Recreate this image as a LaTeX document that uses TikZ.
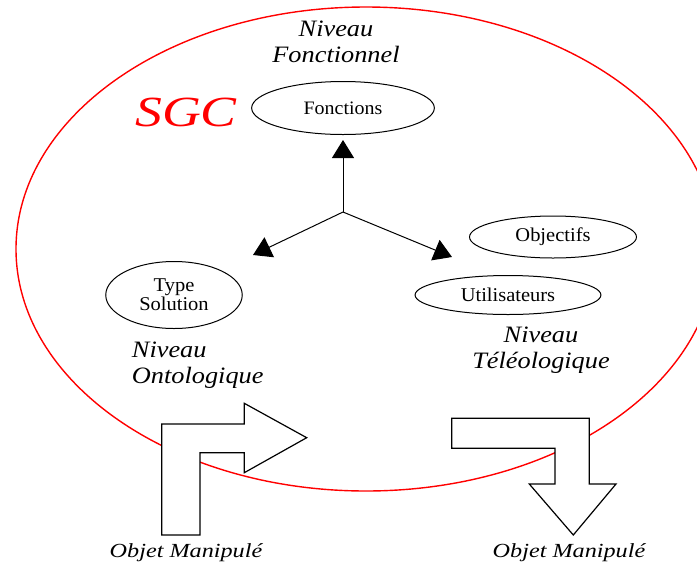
\documentclass[tikz,border=0pt]{standalone}
\usepackage{fontspec}
\setmainfont{Liberation Serif}
\usetikzlibrary{shapes.geometric,arrows.meta}

\begin{document}
\begin{tikzpicture}[x=1pt, y=-1pt,
    niveau/.style={font=\itshape\fontsize{23.5}{25.5}\selectfont, align=center, xscale=1.12},
    bloc/.style={draw, ellipse, line width=1pt, inner sep=0pt, align=center, font=\fontsize{19.5}{19}\selectfont, xscale=1.05},
    objet/.style={font=\itshape\fontsize{20}{20}\selectfont, xscale=1.21},
    fleche/.style={-{Triangle[length=18pt,width=22pt]}, line width=1pt},
    coude/.style={draw, line width=1.2pt, fill=white, line join=miter}]
    \useasboundingbox (0,0) rectangle (697,566);

    % System boundary
    \draw[red, line width=1.4pt] (366,249) ellipse [x radius=350pt, y radius=242pt];

    % Nodes
    \node (sgc) [font=\itshape\fontsize{43}{45}\selectfont, text=red, xscale=1.25] at (186,112) {SGC};
    \node (fonctionnel) [niveau] at (336,42) {Niveau\\Fonctionnel};
    \node (fonctions) [bloc, minimum width=174pt, minimum height=53pt, font=\fontsize{19}{19}\selectfont] at (343,108) {Fonctions};
    \node (type) [bloc, minimum width=130pt, minimum height=67pt] at (174,295) {Type\\Solution};
    \node (objectifs) [bloc, minimum width=159pt, minimum height=42pt] at (553,237) {Objectifs};
    \node (users) [bloc, minimum width=177pt, minimum height=39pt] at (508,295) {Utilisateurs};
    \node (ontologique) [niveau, align=left, anchor=west] at (128,365) {Niveau\\Ontologique};
    \node (teleologique) [niveau] at (541,350) {Niveau\\Téléologique};
    \node (objet1) [objet] at (186,553) {Objet Manipulé};
    \node (objet2) [objet] at (569,553) {Objet Manipulé};

    \coordinate (hub) at (343,212);
    \coordinate (versType) at (253,255);
    \coordinate (versUsers) at (452,257);

    % Arrows
    \draw[fleche, shorten >=5pt] (hub) -- (fonctions.south);
    \draw[fleche] (hub) -- (versType);
    \draw[fleche] (hub) -- (versUsers);

    % Bent arrows
    \draw[coude] (161.7,535) -- (161.7,424) -- (244.3,424) -- (244.3,403.3) -- (306.7,437.7)
        -- (244.3,472.7) -- (244.3,452.7) -- (200,452.7) -- (200,535) -- cycle;
    \draw[coude] (451.7,418.3) -- (589.3,418.3) -- (589.3,484) -- (616,484) -- (573.3,535)
        -- (529.3,484) -- (555,484) -- (555,448.3) -- (451.7,448.3) -- cycle;
\end{tikzpicture}
\end{document}
